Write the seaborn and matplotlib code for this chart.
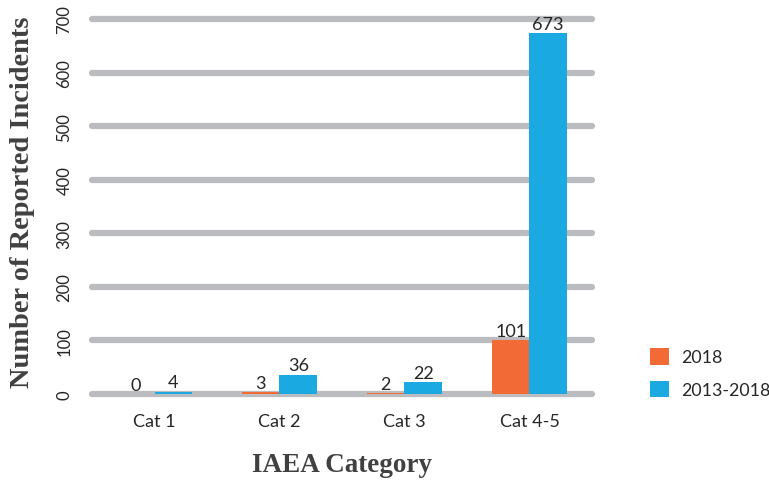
import matplotlib
matplotlib.use("Agg")
import matplotlib.pyplot as plt
import seaborn as sns
import pandas as pd

categories = ["Cat 1", "Cat 2", "Cat 3", "Cat 4-5"]
series_names = ["2018", "2013-2018"]
values_2018 = [0, 3, 2, 101]
values_2013_2018 = [4, 36, 22, 673]
y_ticks = [0, 100, 200, 300, 400, 500, 600, 700]

colors = ["#F26A36", "#1BA9E1"]
grid_color = "#BBBCC0"
text_color = "#262626"
title_color = "#404040"

df = pd.DataFrame({
    "category": categories * 2,
    "series": [series_names[0]] * len(categories) + [series_names[1]] * len(categories),
    "value": values_2018 + values_2013_2018,
})

sns.set_theme(style="white")
plt.rcParams["font.family"] = ["Lato", "DejaVu Sans"]

fig = plt.figure(figsize=(7.69, 4.85), dpi=100)
ax = fig.add_axes([92 / 769, 90 / 485, 500 / 769, 375 / 485])

sns.barplot(data=df, x="category", y="value", hue="series", order=categories,
            hue_order=series_names, palette=colors, width=0.6, saturation=1,
            edgecolor="none", linewidth=0, ax=ax, legend=True)

ax.set_xlim(-0.5, 3.5)
ax.set_ylim(0, 700)
ax.set_yticks(y_ticks)
ax.set_axisbelow(True)
ax.yaxis.grid(True, color=grid_color, linewidth=4.5, solid_capstyle="round")
ax.xaxis.grid(False)
for gl in ax.yaxis.get_gridlines():
    gl.set_clip_on(False)

for s in ax.spines.values():
    s.set_visible(False)
ax.tick_params(axis="both", length=0)
ax.tick_params(axis="x", labelsize=13, labelcolor=text_color, pad=14)
ax.tick_params(axis="y", labelsize=12, labelcolor=text_color, pad=14)
for lab in ax.get_yticklabels():
    lab.set_rotation(90)
    lab.set_va("center")

for container in ax.containers:
    ax.bar_label(container, fmt="%d", fontsize=13, color=text_color, padding=1)

ax.set_xlabel("IAEA Category", fontsize=19.5, fontweight="bold",
              family="Liberation Serif", color=title_color, labelpad=16)
ax.set_ylabel("Number of Reported Incidents", fontsize=20.4, fontweight="bold",
              family="Liberation Serif", color=title_color)
ax.yaxis.set_label_coords(-0.114, 0.515)

leg = ax.legend(loc="upper left", bbox_to_anchor=(1.085, 0.165), frameon=False,
                fontsize=12.8, handlelength=1.05, handleheight=1.05,
                labelspacing=0.85, handletextpad=0.65)
for t in leg.get_texts():
    t.set_color(text_color)

fig.savefig("out.png", dpi=100)
